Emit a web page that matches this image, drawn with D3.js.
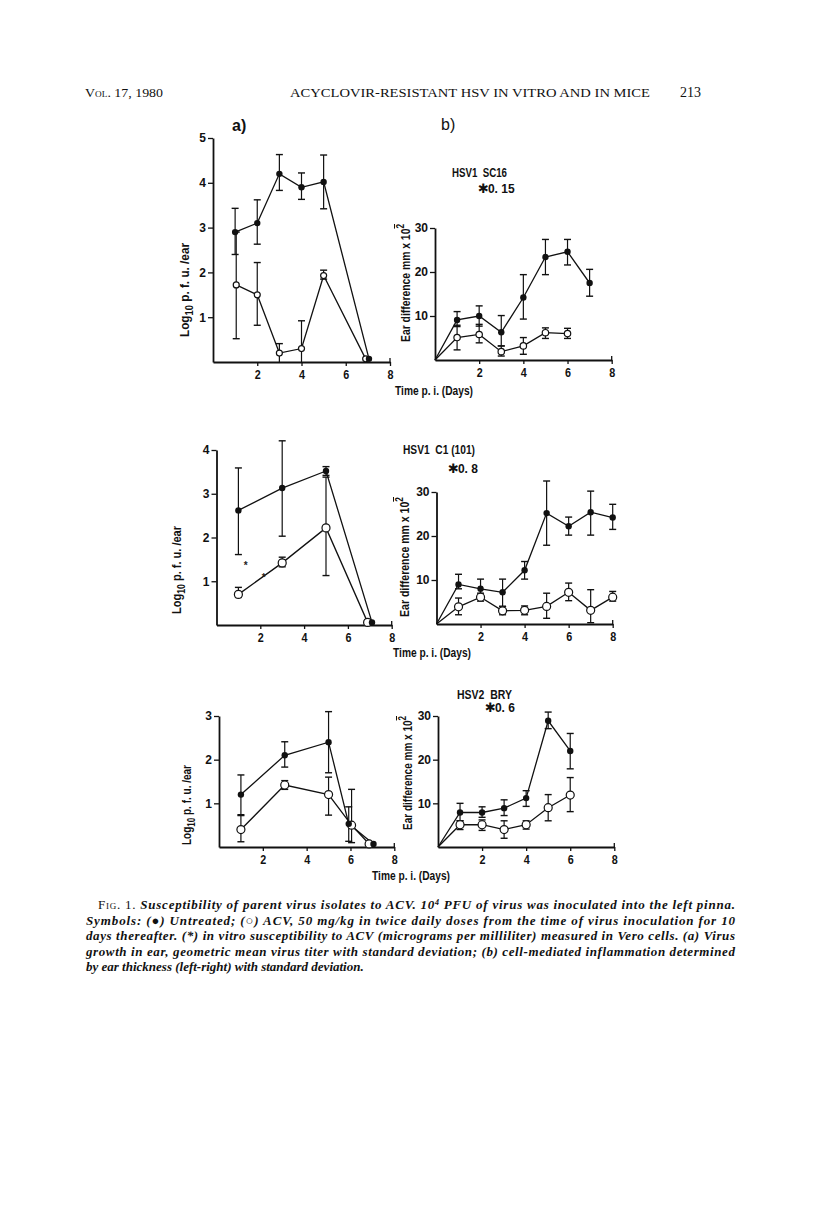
<!DOCTYPE html>
<html><head><meta charset="utf-8">
<script src="https://cdn.jsdelivr.net/npm/d3@7"></script>
<style>
body{margin:0;background:#fff;}
svg{display:block;}
.cond{font-family:"Liberation Sans Narrow","Liberation Sans",Arial,sans-serif;font-weight:bold;}
.serif{font-family:"Liberation Serif","DejaVu Serif",serif;}
</style></head>
<body>
<script>
// ---------- DATA ----------
const xTicks = [2, 4, 6, 8];
const logTicksA1 = [1, 2, 3, 4, 5];
const logTicksA2 = [1, 2, 3, 4];
const logTicksA3 = [1, 2, 3];
const earTicks = [10, 20, 30];

const strainNames = ["HSV1  SC16", "HSV1  C1 (101)", "HSV2  BRY"];
const ic50Labels = ["0. 15", "0. 8", "0. 6"];

// Panel a) HSV1 SC16 — virus titre (log10 pfu/ear)
const a1FilledDay = [1, 2, 3, 4, 5, 7.05];
const a1FilledVal = [2.9, 3.1, 4.2, 3.9, 4.02, 0.07];
const a1FilledLo  = [2.4, 2.63, 3.83, 3.63, 3.42, null];
const a1FilledHi  = [3.43, 3.62, 4.63, 4.22, 4.62, null];
const a1OpenDay = [1.05, 2, 3, 4, 5, 6.9];
const a1OpenVal = [1.72, 1.5, 0.2, 0.3, 1.93, 0.07];
const a1OpenLo  = [0.52, 0.82, 0.0, 0.0, 1.85, null];
const a1OpenHi  = [2.9, 2.22, 0.41, 0.92, 2.05, null];

// Panel b) HSV1 SC16 — ear difference
const b1FilledDay = [0, 1, 2, 3, 4, 5, 6, 7];
const b1FilledVal = [0, 9.1, 10.0, 6.3, 14.2, 23.4, 24.6, 17.5];
const b1FilledLo  = [null, 7.6, 7.7, 3.2, 9.3, 19.4, 21.6, 14.5];
const b1FilledHi  = [null, 11.0, 12.3, 10.1, 19.4, 27.4, 27.4, 20.6];
const b1OpenDay = [0, 1, 2, 3, 4, 5, 6];
const b1OpenVal = [0, 5.1, 5.8, 1.9, 3.2, 6.2, 6.0];
const b1OpenLo  = [null, 2.3, 3.9, 0.9, 1.3, 4.9, 4.9];
const b1OpenHi  = [null, 7.9, 8.1, 3.2, 5.1, 7.3, 7.2];

// Panel a) HSV1 C1 (101)
const a2FilledDay = [1, 3, 5, 7.1];
const a2FilledVal = [2.62, 3.13, 3.52, 0.06];
const a2FilledLo  = [1.61, 2.03, 3.42, null];
const a2FilledHi  = [3.59, 4.21, 3.62, null];
const a2OpenDay = [1, 3, 5, 6.9];
const a2OpenVal = [0.7, 1.42, 2.22, 0.06];
const a2OpenLo  = [0.63, 1.33, 1.13, null];
const a2OpenHi  = [0.86, 1.55, 3.38, null];
const a2SpeckDay = [1.33, 2.15];
const a2SpeckVal = [1.38, 1.1];

// Panel b) HSV1 C1 (101)
const b2FilledDay = [0, 1, 2, 3, 4, 5, 6, 7, 8];
const b2FilledVal = [0, 9.0, 8.0, 7.2, 12.2, 25.2, 22.2, 25.4, 24.2];
const b2FilledLo  = [null, 8.0, 6.0, 4.0, 10.2, 17.9, 20.2, 20.2, 21.5];
const b2FilledHi  = [null, 11.3, 10.2, 10.2, 14.2, 32.5, 24.3, 30.2, 27.2];
const b2OpenDay = [0, 1, 2, 3, 4, 5, 6, 7, 8];
const b2OpenVal = [0, 3.9, 6.1, 3.0, 3.1, 4.0, 7.2, 3.1, 6.1];
const b2OpenLo  = [null, 2.1, 5.2, 2.1, 2.1, 1.3, 5.3, 0.3, 5.2];
const b2OpenHi  = [null, 5.9, 7.0, 4.0, 4.1, 7.0, 9.3, 7.8, 7.4];

// Panel a) HSV2 BRY
const a3FilledDay = [1, 3, 5, 5.92, 7.05];
const a3FilledVal = [1.2, 2.1, 2.4, 0.53, 0.07];
const a3FilledLo  = [0.74, 1.83, 1.7, 0.13, null];
const a3FilledHi  = [1.65, 2.41, 3.1, 0.92, null];
const a3OpenDay = [1, 3, 5, 6.05, 6.85];
const a3OpenVal = [0.4, 1.42, 1.2, 0.5, 0.07];
const a3OpenLo  = [0.12, 1.32, 0.73, 0.1, null];
const a3OpenHi  = [0.72, 1.52, 1.6, 1.32, null];

// Panel b) HSV2 BRY
const b3FilledDay = [0, 1, 2, 3, 4, 5, 6];
const b3FilledVal = [0, 7.9, 7.9, 8.9, 11.2, 28.9, 22.0];
const b3FilledLo  = [null, 6.0, 6.8, 7.2, 9.3, 27.1, 17.9];
const b3FilledHi  = [null, 10.0, 9.2, 10.8, 12.9, 30.9, 26.0];
const b3OpenDay = [0, 1, 2, 3, 4, 5, 6];
const b3OpenVal = [0, 5.1, 5.1, 4.0, 5.1, 9.0, 11.9];
const b3OpenLo  = [null, 4.0, 3.8, 2.0, 4.1, 6.0, 8.1];
const b3OpenHi  = [null, 6.0, 6.2, 6.0, 6.0, 12.0, 15.9];

const captionLines = [
  "Susceptibility of parent virus isolates to ACV. 10",
  "Symbols: (\u25CF) Untreated; (\u25CB) ACV, 50 mg/kg in twice daily doses from the time of virus inoculation for 10",
  "days thereafter. (*) in vitro susceptibility to ACV (micrograms per milliliter) measured in Vero cells. (a) Virus",
  "growth in ear, geometric mean virus titer with standard deviation; (b) cell-mediated inflammation determined",
  "by ear thickness (left-right) with standard deviation."
];

// ---------- DRAWING ----------
const W = 816, H = 1205;
const svg = d3.select("body").append("svg").attr("width", W).attr("height", H);

function series(days, vals, lo, hi) {
  return days.map((d, i) => ({d, v: vals[i], lo: lo[i], hi: hi[i]}));
}

function panel(cfg) {
  const x = d3.scaleLinear().domain([0, 8]).range([cfg.x0, cfg.x1]);
  const y = d3.scaleLinear().domain([0, cfg.yMax]).range([cfg.y0, cfg.y1]);
  const g = svg.append("g").attr("class", "cond");

  const ax = g.append("g").attr("transform", `translate(0,${cfg.y0})`)
    .call(d3.axisBottom(x).tickValues(xTicks).tickFormat(d3.format("d")).tickSize(4).tickSizeOuter(0).tickPadding(4));
  const ay = g.append("g").attr("transform", `translate(${cfg.x0},0)`)
    .call(d3.axisLeft(y).tickValues(cfg.yTicks).tickFormat(d3.format("d")).tickSize(5).tickSizeOuter(0).tickPadding(2));
  [ax, ay].forEach(a => {
    a.select(".domain").attr("stroke", "#111").attr("stroke-width", 1.8);
    a.selectAll(".tick line").attr("stroke", "#111").attr("stroke-width", 1.3);
    a.selectAll(".tick text").attr("fill", "#111").style("font-size", "12px")
      .attr("font-family", null);
  });
  ax.selectAll(".tick text").attr("transform", "scale(0.9,1.05)");
  // small up-turned end at x = 8
  g.append("line").attr("x1", x(8)).attr("x2", x(8)).attr("y1", cfg.y0).attr("y2", cfg.y0 - 4)
    .attr("stroke", "#111").attr("stroke-width", 1.3);

  const line = d3.line().x(p => x(p.d)).y(p => y(p.v));
  const drawErr = (pts) => {
    pts.filter(p => p.lo != null).forEach(p => {
      const cx = x(p.d);
      g.append("line").attr("x1", cx).attr("x2", cx).attr("y1", y(p.lo)).attr("y2", y(p.hi))
        .attr("stroke", "#111").attr("stroke-width", 1.2);
      [p.lo, p.hi].forEach(v => {
        if (v <= 0) return;
        g.append("line").attr("x1", cx - 3.5).attr("x2", cx + 3.5).attr("y1", y(v)).attr("y2", y(v))
          .attr("stroke", "#111").attr("stroke-width", 1.4);
      });
    });
  };
  g.append("path").datum(cfg.filled).attr("d", line).attr("fill", "none").attr("stroke", "#111").attr("stroke-width", 1.3);
  g.append("path").datum(cfg.open).attr("d", line).attr("fill", "none").attr("stroke", "#111").attr("stroke-width", 1.3);
  drawErr(cfg.filled);
  drawErr(cfg.open);
  g.selectAll(null).data(cfg.open.filter(p => p.d > 0)).join("circle")
    .attr("cx", p => x(p.d)).attr("cy", p => y(p.v)).attr("r", cfg.openR || 3.4)
    .attr("fill", "#fff").attr("stroke", "#111").attr("stroke-width", 1.2);
  g.selectAll(null).data(cfg.filled.filter(p => p.d > 0)).join("circle")
    .attr("cx", p => x(p.d)).attr("cy", p => y(p.v)).attr("r", 3.2).attr("fill", "#111");
  if (cfg.specks) {
    g.selectAll(null).data(cfg.specks).join("text")
      .attr("x", p => x(p.d)).attr("y", p => y(p.v) + 4).attr("text-anchor", "middle")
      .style("font-size", "10px").attr("fill", "#222").text("*");
  }

  // y axis label
  const lab = g.append("text").attr("transform", `translate(${cfg.labX},${cfg.labY}) rotate(-90)`)
    .attr("text-anchor", "middle").attr("fill", "#111").style("font-size", "12.5px")
    .attr("textLength", cfg.labLen).attr("lengthAdjust", "spacingAndGlyphs");
  if (cfg.kind === "log") {
    lab.append("tspan").text("Log");
    lab.append("tspan").attr("dy", 4).style("font-size", "10px").text("10");
    lab.append("tspan").attr("dy", -4).text(" p. f. u. /ear");
  } else {
    lab.append("tspan").text("Ear difference mm x 10");
    lab.append("tspan").attr("dy", -6).style("font-size", "10px").style("text-decoration", "overline").text("2");
  }
  return {x, y, g};
}

// Panels a)
const A = [
  {x0: 213, x1: 390, y0: 362, y1: 138, yMax: 5, yTicks: logTicksA1, labX: 189, labY: 290, labLen: 94,
   filled: series(a1FilledDay, a1FilledVal, a1FilledLo, a1FilledHi),
   open: series(a1OpenDay, a1OpenVal, a1OpenLo, a1OpenHi), openR: 3},
  {x0: 216.5, x1: 391.7, y0: 625, y1: 450, yMax: 4, yTicks: logTicksA2, labX: 181, labY: 570, labLen: 88,
   filled: series(a2FilledDay, a2FilledVal, a2FilledLo, a2FilledHi),
   open: series(a2OpenDay, a2OpenVal, a2OpenLo, a2OpenHi), openR: 4,
   specks: a2SpeckDay.map((d, i) => ({d, v: a2SpeckVal[i]}))},
  {x0: 219, x1: 394.3, y0: 847, y1: 716, yMax: 3, yTicks: logTicksA3, labX: 191, labY: 805, labLen: 80,
   filled: series(a3FilledDay, a3FilledVal, a3FilledLo, a3FilledHi),
   open: series(a3OpenDay, a3OpenVal, a3OpenLo, a3OpenHi), openR: 4}
];
A.forEach(c => { c.kind = "log"; panel(c); });

const B = [
  {x0: 435, x1: 611.7, y0: 360, y1: 228, yMax: 30, labX: 410, labY: 283, labLen: 118,
   filled: series(b1FilledDay, b1FilledVal, b1FilledLo, b1FilledHi),
   open: series(b1OpenDay, b1OpenVal, b1OpenLo, b1OpenHi), openR: 3.2},
  {x0: 436.5, x1: 612.7, y0: 624, y1: 492, yMax: 30, labX: 409, labY: 557, labLen: 120,
   filled: series(b2FilledDay, b2FilledVal, b2FilledLo, b2FilledHi),
   open: series(b2OpenDay, b2OpenVal, b2OpenLo, b2OpenHi), openR: 4},
  {x0: 438, x1: 614.3, y0: 847, y1: 716, yMax: 30, labX: 412, labY: 773, labLen: 114,
   filled: series(b3FilledDay, b3FilledVal, b3FilledLo, b3FilledHi),
   open: series(b3OpenDay, b3OpenVal, b3OpenLo, b3OpenHi), openR: 4}
];
B.forEach(c => { c.kind = "ear"; c.yTicks = earTicks; panel(c); });

// strain headers
const headPos = [
  {x: 452, y: 177, w: 55, sx: 478, sy: 193},
  {x: 403, y: 454, w: 72, sx: 448, sy: 473},
  {x: 457, y: 699, w: 55, sx: 485, sy: 712}
];
headPos.forEach((p, i) => {
  svg.append("text").attr("class", "cond").attr("x", p.x).attr("y", p.y)
    .attr("textLength", p.w).attr("lengthAdjust", "spacingAndGlyphs")
    .style("font-size", "12px").attr("fill", "#111").text(strainNames[i]).style("white-space", "pre");
  const t = svg.append("text").attr("class", "cond").attr("x", p.sx).attr("y", p.sy)
    .style("font-size", "12px").attr("fill", "#111");
  t.append("tspan").style("font-family", "DejaVu Sans").style("font-size", "13px").text("\u2731");
  t.append("tspan").attr("dx", -1).text(ic50Labels[i]);
});

// time labels
[[395, 395], [393, 657], [372, 880]].forEach(p => {
  svg.append("text").attr("class", "cond").attr("x", p[0]).attr("y", p[1])
    .attr("textLength", 78).attr("lengthAdjust", "spacingAndGlyphs")
    .style("font-size", "12px").attr("fill", "#111").text("Time p. i. (Days)");
});

// panel letters
svg.append("text").attr("class", "cond").attr("x", 232).attr("y", 131).style("font-size", "16px").attr("fill", "#111").text("a)");
svg.append("text").attr("class", "cond").attr("x", 441).attr("y", 130).style("font-size", "16px").style("font-weight", "normal").attr("fill", "#111").text("b)");

// running header
const hdr = svg.append("g").attr("class", "serif").attr("fill", "#111");
hdr.append("text").attr("x", 85).attr("y", 97).attr("textLength", 78).attr("lengthAdjust", "spacingAndGlyphs")
  .style("font-size", "13.5px").style("font-variant", "small-caps").text("Vol. 17, 1980");
hdr.append("text").attr("x", 290).attr("y", 97).attr("textLength", 360).attr("lengthAdjust", "spacingAndGlyphs").style("font-size", "13.5px").text("ACYCLOVIR-RESISTANT HSV IN VITRO AND IN MICE");
hdr.append("text").attr("x", 680).attr("y", 97).style("font-size", "14px").text("213");

// caption
const cap = svg.append("g").attr("class", "serif").attr("fill", "#111").style("font-size", "13px").style("font-weight", "bold");
const capY = [909, 924.5, 940, 955.5, 971];
captionLines.forEach((s, i) => {
  const t = cap.append("text").attr("y", capY[i]);
  if (i === 0) {
    t.attr("x", 98).attr("textLength", 637).attr("lengthAdjust", "spacing");
    t.append("tspan").style("font-variant", "small-caps").style("font-weight", "normal").text("Fig. 1. ");
    t.append("tspan").style("font-style", "italic").text(s);
    t.append("tspan").style("font-style", "italic").attr("dy", -4).style("font-size", "8px").text("4");
    t.append("tspan").style("font-style", "italic").attr("dy", 4).text(" PFU of virus was inoculated into the left pinna.");
  } else {
    t.attr("x", 86).style("font-style", "italic");
    if (i < 4) t.attr("textLength", 649).attr("lengthAdjust", "spacing");
    t.text(s);
  }
});
</script>
</body></html>
